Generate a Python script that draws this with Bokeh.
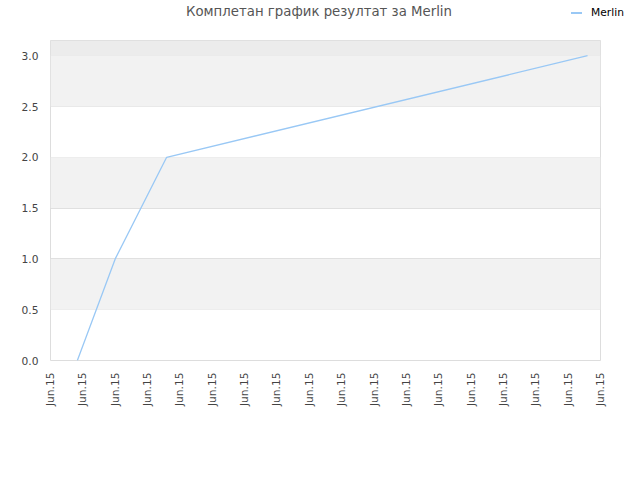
from bokeh.plotting import figure
from bokeh.layouts import column
from bokeh.models import BoxAnnotation, Range1d, FixedTicker, Div
from bokeh.embed import file_html
from bokeh.resources import INLINE

title = "Комплетан график резултат за Merlin"
series_name = "Merlin"
# x position in tick units (all ticks on the same day)
xs = [0.83, 2.0, 3.59, 16.6]
ys = [0, 1, 2, 3]
tick_labels = ["Jun.15"] * 18
band_edges = [(0.5, 1.0), (1.5, 2.0), (2.5, 3.0)]
line_color = "#99c8f5"

# header with title and legend (plain HTML so it is not tied to the plot frame)
head = Div(width=640, height=40, margin=0, text=(
    '<div style="position:relative;width:640px;height:40px;font-family:\'DejaVu Sans\';">'
    '<span style="position:absolute;left:0;top:4px;width:638px;text-align:center;'
    'font-size:13.3px;line-height:16px;color:#555555;white-space:nowrap;">%s</span>'
    '<span style="position:absolute;left:571px;top:12px;width:11px;height:2px;'
    'background:%s;"></span>'
    '<span style="position:absolute;left:591px;top:6px;font-size:10.7px;line-height:13px;'
    'color:#000000;white-space:nowrap;">%s</span>'
    '</div>') % (title, line_color, series_name))

p = figure(frame_width=550, frame_height=320, output_backend="svg", toolbar_location=None,
           x_range=Range1d(0, 17), y_range=Range1d(0, 3.15),
           min_border_left=50, min_border_right=40, min_border_top=0,
           min_border_bottom=120)
p.background_fill_color = "white"
p.border_fill_color = "white"
p.outline_line_color = "#dddddd"

for lo, hi in band_edges:
    p.add_layout(BoxAnnotation(bottom=lo, top=hi, fill_color="#f2f2f2", fill_alpha=1,
                               line_alpha=0, level="underlay"))
p.add_layout(BoxAnnotation(bottom=3.0, fill_color="#ececec", fill_alpha=1,
                           line_alpha=0, level="underlay"))

p.line(xs, ys, line_color=line_color, line_width=1.3)

p.xgrid.grid_line_color = None
p.ygrid.grid_line_color = "#e0e0e0"
p.yaxis.ticker = FixedTicker(ticks=[0, 0.5, 1, 1.5, 2, 2.5, 3])
p.yaxis.major_label_overrides = {0: "0.0", 1: "1.0", 2: "2.0", 3: "3.0"}
p.xaxis.ticker = FixedTicker(ticks=list(range(len(tick_labels))))
p.xaxis.major_label_overrides = {i: t for i, t in enumerate(tick_labels)}
p.xaxis.major_label_orientation = 1.5708

for ax in (p.xaxis, p.yaxis):
    ax.axis_line_color = None
    ax.major_tick_line_color = None
    ax.minor_tick_line_color = None
    ax.major_label_text_font = "DejaVu Sans"
    ax.major_label_text_font_size = "8pt"
    ax.major_label_text_color = "#444444"
    ax.major_label_standoff = 6

layout = column(head, p, spacing=0)
open("out.html", "w").write(file_html(layout, INLINE))
